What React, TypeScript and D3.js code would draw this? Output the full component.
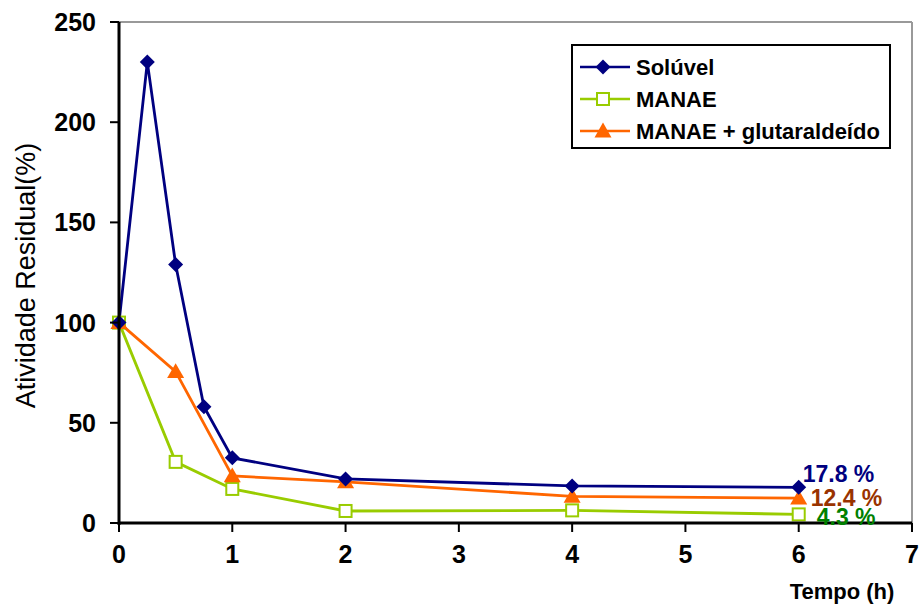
import React from "react";
import * as d3 from "d3";

// Time points (h) and residual activity (%) per preparation
const solTime = [0, 0.25, 0.5, 0.75, 1, 2, 4, 6];
const solValues = [100, 230, 129, 58, 32.5, 22, 18.5, 17.8];
const manaeTime = [0, 0.5, 1, 2, 4, 6];
const manaeValues = [100, 30.5, 17, 6, 6.3, 4.3];
const glutTime = [0, 0.5, 1, 2, 4, 6];
const glutValues = [100, 75.5, 23.5, 20.5, 13.3, 12.4];

const seriesNames = ["Solúvel", "MANAE", "MANAE + glutaraldeído"];
const xTicks = [0, 1, 2, 3, 4, 5, 6, 7];
const yTicks = [0, 50, 100, 150, 200, 250];
const endLabels = ["17.8 %", "12.4 %", "4.3 %"];

const W = 922;
const H = 608;
const left = 119;
const right = 912;
const top = 22;
const bottom = 523;

export default function App() {
  const x = d3.scaleLinear().domain([0, 7]).range([left, right]);
  const y = d3.scaleLinear().domain([0, 250]).range([bottom, top]);
  const line = d3
    .line<[number, number]>()
    .x((d) => x(d[0]))
    .y((d) => y(d[1]));

  const sol: [number, number][] = solTime.map((t, i) => [t, solValues[i]]);
  const man: [number, number][] = manaeTime.map((t, i) => [t, manaeValues[i]]);
  const glu: [number, number][] = glutTime.map((t, i) => [t, glutValues[i]]);

  const navy = "#000080";
  const green = "#99CC00";
  const orange = "#FF6600";
  const font = "Arial, 'Liberation Sans', sans-serif";

  const diamond = (cx: number, cy: number, r = 7.5) =>
    `M${cx},${cy - r}L${cx + r},${cy}L${cx},${cy + r}L${cx - r},${cy}Z`;
  const triangle = (cx: number, cy: number, r = 8.5) =>
    `M${cx},${cy - r}L${cx + r},${cy + r * 0.75}L${cx - r},${cy + r * 0.75}Z`;

  const last = (arr: [number, number][]) => arr[arr.length - 1];

  return (
    <svg
      width={W}
      height={H}
      style={{ position: "absolute", left: 0, top: 0, background: "#fff" }}
      fontFamily={font}
    >
      {/* plot frame (top and right) */}
      <line x1={left} x2={right} y1={top} y2={top} stroke="#999" strokeWidth={2} />
      <line x1={right} x2={right} y1={top} y2={bottom} stroke="#999" strokeWidth={2} />

      {/* series lines */}
      <path d={line(man) || ""} fill="none" stroke={green} strokeWidth={2.8} />
      <path d={line(glu) || ""} fill="none" stroke={orange} strokeWidth={2.8} />
      <path d={line(sol) || ""} fill="none" stroke={navy} strokeWidth={2.8} />

      {/* markers */}
      {man.map((d, i) => (
        <rect
          key={"m" + i}
          x={x(d[0]) - 6}
          y={y(d[1]) - 6}
          width={12}
          height={12}
          fill="#fff"
          stroke={green}
          strokeWidth={2}
        />
      ))}
      {glu.map((d, i) => (
        <path key={"g" + i} d={triangle(x(d[0]), y(d[1]))} fill={orange} />
      ))}
      {sol.map((d, i) => (
        <path key={"s" + i} d={diamond(x(d[0]), y(d[1]))} fill={navy} />
      ))}

      {/* axes */}
      <line x1={left} x2={left} y1={top} y2={bottom + 2} stroke="#000" strokeWidth={3} />
      <line x1={left - 1} x2={right} y1={bottom} y2={bottom} stroke="#000" strokeWidth={3} />
      {yTicks.map((t) => (
        <g key={"yt" + t}>
          <line x1={left - 9} x2={left} y1={y(t)} y2={y(t)} stroke="#000" strokeWidth={2} />
          <text
            x={left - 23}
            y={y(t) + 9}
            textAnchor="end"
            fontSize={25}
            fontWeight="bold"
          >
            {t}
          </text>
        </g>
      ))}
      {xTicks.map((t) => (
        <g key={"xt" + t}>
          <line x1={x(t)} x2={x(t)} y1={bottom} y2={bottom + 9} stroke="#000" strokeWidth={2} />
          <text x={x(t)} y={563} textAnchor="middle" fontSize={25} fontWeight="bold">
            {t}
          </text>
        </g>
      ))}

      {/* axis titles */}
      <text
        transform={`translate(35,${(top + bottom) / 2 + 3}) rotate(-90)`}
        textAnchor="middle"
        fontSize={27}
      >
        Atividade Residual(%)
      </text>
      <text x={842} y={599} textAnchor="middle" fontSize={22} fontWeight="bold">
        Tempo (h)
      </text>

      {/* end-point labels */}
      <text x={x(last(sol)[0]) + 4} y={y(last(sol)[1]) - 5} fontSize={23} fontWeight="bold" fill={navy}>
        {endLabels[0]}
      </text>
      <text x={x(last(glu)[0]) + 12} y={y(last(glu)[1]) + 8} fontSize={23} fontWeight="bold" fill="#993300">
        {endLabels[1]}
      </text>
      <text x={x(last(man)[0]) + 18} y={y(last(man)[1]) + 11} fontSize={23} fontWeight="bold" fill="#008000">
        {endLabels[2]}
      </text>

      {/* legend */}
      <rect x={572} y={45} width={318} height={103} fill="#fff" stroke="#000" strokeWidth={2} />
      {seriesNames.map((name, i) => {
        const ly = 67 + i * 32;
        const col = [navy, green, orange][i];
        return (
          <g key={"lg" + i}>
            <line x1={580} x2={630} y1={ly} y2={ly} stroke={col} strokeWidth={2.5} />
            {i === 0 && <path d={diamond(603, ly)} fill={navy} />}
            {i === 1 && (
              <rect x={597} y={ly - 6} width={12} height={12} fill="#fff" stroke={green} strokeWidth={2} />
            )}
            {i === 2 && <path d={triangle(603, ly)} fill={orange} />}
            <text x={636} y={ly + 8} fontSize={22} fontWeight="bold">
              {name}
            </text>
          </g>
        );
      })}
    </svg>
  );
}
